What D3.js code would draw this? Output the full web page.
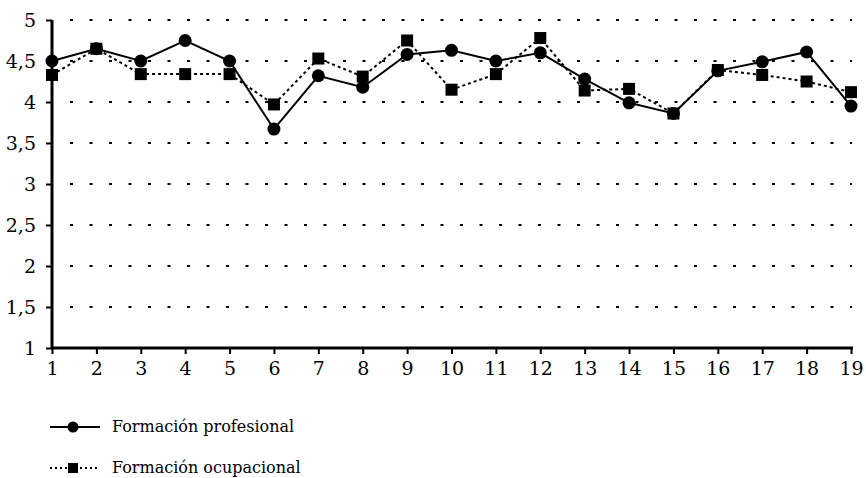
<!DOCTYPE html>
<html>
<head>
<meta charset="utf-8">
<script src="https://cdn.jsdelivr.net/npm/d3@7"></script>
<style>
  body { margin: 0; background: white; }
  text { font-family: "DejaVu Serif", "Liberation Serif", serif; fill: #000; }
</style>
</head>
<body>
<div id="myVis"></div>
<script>
// data
const items = [1,2,3,4,5,6,7,8,9,10,11,12,13,14,15,16,17,18,19]
const profesional = [4.5,4.65,4.5,4.75,4.5,3.67,4.32,4.18,4.58,4.63,4.5,4.6,4.28,3.99,3.86,4.38,4.49,4.61,3.95]
const ocupacional = [4.33,4.65,4.34,4.34,4.34,3.97,4.53,4.31,4.75,4.15,4.34,4.78,4.14,4.16,3.86,4.39,4.33,4.25,4.12]
const yTicks = [1,1.5,2,2.5,3,3.5,4,4.5,5]
const seriesNames = ["Formación profesional", "Formación ocupacional"]

const width = 866, height = 478
const serif = "'DejaVu Serif', 'Liberation Serif', serif"

const svg = d3.select("#myVis")
    .append("svg")
        .attr("width", width)
        .attr("height", height)
        .style("background-color", "white")

const x = d3.scaleLinear().domain([1, 19]).range([52, 851])
const y = d3.scaleLinear().domain([1, 5]).range([348, 20])

const fmt = d => String(d).replace(".", ",")

// dotted gridlines
svg.append("g")
    .selectAll("line")
    .data(yTicks.slice(1))
    .enter()
    .append("line")
        .attr("x1", 70)
        .attr("x2", 852)
        .attr("y1", d => y(d))
        .attr("y2", d => y(d))
        .attr("stroke", "#000")
        .attr("stroke-width", 2)
        .attr("stroke-dasharray", "3,16.5")

// y axis
const yAxis = svg.append("g")
    .attr("transform", "translate(52,0)")
    .call(d3.axisLeft(y).tickValues(yTicks).tickSize(6).tickPadding(10).tickFormat(fmt))
yAxis.attr("font-family", serif)
yAxis.select(".domain").attr("stroke-width", 3).attr("d", "M0," + y(5) + "V" + y(1))
yAxis.selectAll(".tick line").attr("stroke-width", 2)
yAxis.selectAll("text").attr("font-size", 19).attr("font-family", serif)

// x axis
const xAxis = svg.append("g")
    .attr("transform", "translate(0,348)")
    .call(d3.axisBottom(x).tickValues(items).tickSize(6).tickPadding(8).tickFormat(d3.format("d")))
xAxis.attr("font-family", serif)
xAxis.select(".domain").attr("stroke-width", 3).attr("d", "M51,0H853")
xAxis.selectAll(".tick line").attr("stroke-width", 2)
xAxis.selectAll("text").attr("font-size", 19).attr("font-family", serif)

const line = d3.line()
    .x((d, i) => x(items[i]))
    .y(d => y(d))

// ocupacional (dotted, squares)
svg.append("path")
    .datum(ocupacional)
    .attr("d", line)
    .attr("fill", "none")
    .attr("stroke", "#000")
    .attr("stroke-width", 2)
    .attr("stroke-dasharray", "3,3")

svg.append("g")
    .selectAll("rect")
    .data(ocupacional)
    .enter()
    .append("rect")
        .attr("x", (d, i) => x(items[i]) - 6)
        .attr("y", d => y(d) - 6)
        .attr("width", 12)
        .attr("height", 12)
        .attr("fill", "#000")

// profesional (solid, circles)
svg.append("path")
    .datum(profesional)
    .attr("d", line)
    .attr("fill", "none")
    .attr("stroke", "#000")
    .attr("stroke-width", 2)

svg.append("g")
    .selectAll("circle")
    .data(profesional)
    .enter()
    .append("circle")
        .attr("cx", (d, i) => x(items[i]))
        .attr("cy", d => y(d))
        .attr("r", 6.5)
        .attr("fill", "#000")

// legend
const legend = svg.append("g")
const rows = [427, 468]

legend.append("line")
    .attr("x1", 50).attr("x2", 100)
    .attr("y1", rows[0]).attr("y2", rows[0])
    .attr("stroke", "#000").attr("stroke-width", 2)
legend.append("circle")
    .attr("cx", 73).attr("cy", rows[0]).attr("r", 5.5).attr("fill", "#000")

legend.append("line")
    .attr("x1", 50).attr("x2", 100)
    .attr("y1", rows[1]).attr("y2", rows[1])
    .attr("stroke", "#000").attr("stroke-width", 2)
    .attr("stroke-dasharray", "2,3")
legend.append("rect")
    .attr("x", 68).attr("y", rows[1] - 5).attr("width", 10).attr("height", 10).attr("fill", "#000")

legend.selectAll("text")
    .data(seriesNames)
    .enter()
    .append("text")
        .attr("x", 112)
        .attr("y", (d, i) => rows[i])
        .attr("dy", "0.32em")
        .attr("font-family", serif)
        .attr("font-size", 16)
        .text(d => d)
</script>
</body>
</html>
